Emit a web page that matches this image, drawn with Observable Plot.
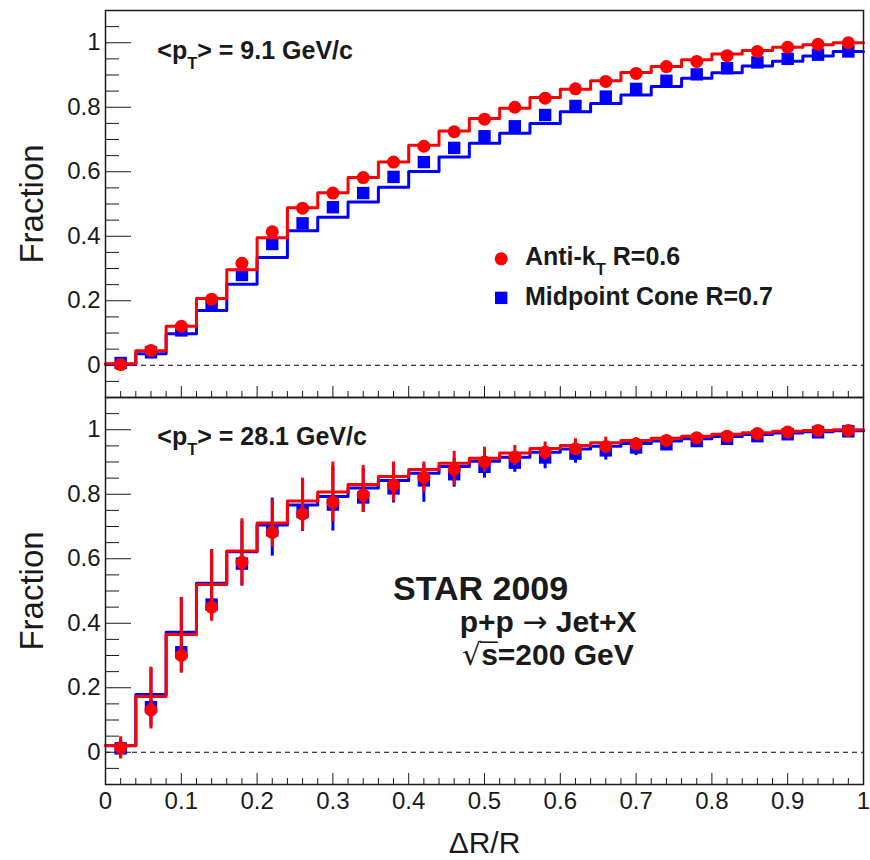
<!DOCTYPE html>
<html>
<head>
<meta charset="utf-8">
<script src="https://cdn.jsdelivr.net/npm/d3@7"></script>
<script src="https://cdn.jsdelivr.net/npm/@observablehq/plot@0.6"></script>
<style>
  html, body { margin: 0; padding: 0; background: #fff; }
  #chart { position: relative; width: 870px; height: 860px; overflow: hidden; background: #fff; }
  #chart svg { position: absolute; left: 0; }
</style>
</head>
<body>
<div id="chart"></div>
<script>
// ΔR/R bins (width 0.04), centres
const binCenters = [0.02, 0.06, 0.10, 0.14, 0.18, 0.22, 0.26, 0.30, 0.34, 0.38, 0.42, 0.46, 0.50,
                    0.54, 0.58, 0.62, 0.66, 0.70, 0.74, 0.78, 0.82, 0.86, 0.90, 0.94, 0.98];
const binHalfWidth = 0.02;

// <pT> = 9.1 GeV/c
const antiKtHist9 = [0.005, 0.045, 0.121, 0.207, 0.296, 0.395, 0.488, 0.535, 0.582, 0.630, 0.682, 0.726, 0.765,
                     0.797, 0.830, 0.856, 0.882, 0.908, 0.926, 0.947, 0.965, 0.976, 0.986, 0.994, 1.000];
const antiKtPts9  = [0.002, 0.046, 0.121, 0.205, 0.316, 0.414, 0.487, 0.534, 0.582, 0.630, 0.679, 0.724, 0.763,
                     0.800, 0.828, 0.857, 0.880, 0.905, 0.926, 0.942, 0.960, 0.973, 0.986, 0.995, 1.000];
const coneHist9   = [0.003, 0.036, 0.098, 0.170, 0.251, 0.334, 0.417, 0.459, 0.506, 0.552, 0.601, 0.646, 0.688,
                     0.719, 0.750, 0.786, 0.812, 0.838, 0.864, 0.890, 0.907, 0.928, 0.943, 0.959, 0.973];
const conePts9    = [0.007, 0.040, 0.108, 0.189, 0.280, 0.376, 0.440, 0.490, 0.534, 0.584, 0.630, 0.674, 0.710,
                     0.741, 0.776, 0.804, 0.833, 0.857, 0.882, 0.902, 0.921, 0.939, 0.950, 0.963, 0.973];

// <pT> = 28.1 GeV/c
const antiKtHist28 = [0.021, 0.173, 0.365, 0.520, 0.624, 0.711, 0.779, 0.807, 0.830, 0.855, 0.877, 0.896, 0.912,
                      0.928, 0.942, 0.951, 0.960, 0.967, 0.974, 0.980, 0.986, 0.991, 0.995, 0.998, 1.000];
const coneHist28   = [0.020, 0.179, 0.372, 0.524, 0.622, 0.705, 0.767, 0.793, 0.819, 0.843, 0.865, 0.886, 0.902,
                      0.915, 0.930, 0.940, 0.949, 0.957, 0.965, 0.972, 0.979, 0.985, 0.990, 0.994, 0.997];
const antiKtPts28  = [0.014, 0.131, 0.300, 0.450, 0.589, 0.682, 0.739, 0.775, 0.798, 0.829, 0.853, 0.877, 0.900,
                      0.915, 0.931, 0.941, 0.948, 0.956, 0.967, 0.975, 0.980, 0.988, 0.993, 0.998, 0.998];
const antiKtErrUp28   = [0.034, 0.133, 0.179, 0.178, 0.135, 0.101, 0.111, 0.125, 0.091, 0.071, 0.047, 0.056, 0.046,
                         0.036, 0.031, 0.031, 0.029, 0.020, 0.015, 0.012, 0.010, 0.010, 0.008, 0.006, 0.005];
const antiKtErrDown28 = [0.035, 0.059, 0.055, 0.044, 0.072, 0.046, 0.051, 0.060, 0.054, 0.050, 0.046, 0.050, 0.032,
                         0.026, 0.025, 0.020, 0.020, 0.020, 0.015, 0.012, 0.010, 0.010, 0.008, 0.006, 0.005];
const conePts28    = [0.012, 0.140, 0.310, 0.458, 0.585, 0.688, 0.745, 0.768, 0.790, 0.818, 0.843, 0.862, 0.885,
                      0.898, 0.914, 0.926, 0.936, 0.945, 0.955, 0.965, 0.972, 0.980, 0.986, 0.992, 0.995];
const coneErrUp28   = [0.030, 0.120, 0.170, 0.170, 0.130, 0.100, 0.100, 0.120, 0.090, 0.070, 0.050, 0.050, 0.040,
                       0.035, 0.030, 0.030, 0.025, 0.020, 0.015, 0.012, 0.010, 0.010, 0.008, 0.006, 0.005];
const coneErrDown28 = [0.030, 0.060, 0.060, 0.050, 0.070, 0.080, 0.060, 0.082, 0.046, 0.045, 0.068, 0.040, 0.035,
                       0.030, 0.035, 0.030, 0.030, 0.025, 0.020, 0.020, 0.015, 0.012, 0.010, 0.008, 0.006];

// axes
const yMajorTicks = [0, 0.2, 0.4, 0.6, 0.8, 1];
const yTickLabels = ["0", "0.2", "0.4", "0.6", "0.8", "1"];
const xMajorTicks = [0, 0.1, 0.2, 0.3, 0.4, 0.5, 0.6, 0.7, 0.8, 0.9, 1];
const xTickLabels = ["0", "0.1", "0.2", "0.3", "0.4", "0.5", "0.6", "0.7", "0.8", "0.9", "1"];
const yMinorTicks = d3.range(-0.05, 1.06, 0.05).map(v => +v.toFixed(2)).filter(v => !yMajorTicks.includes(v));
const xMinorTicks = d3.range(0.02, 1, 0.02).map(v => +v.toFixed(2)).filter(v => !xMajorTicks.includes(v));

const seriesNames = ["Anti-k", "T", " R=0.6", "Midpoint Cone R=0.7"];
const yTitle = "Fraction";
const xTitle = "ΔR/R";

const FONT = '"Liberation Sans", Arial, Helvetica, sans-serif';
const SYMBOL_FONT = '"DejaVu Sans", sans-serif';
const RED = "#ff0000";
const BLUE = "#0000ff";
const INK = "#1a1a1a";
const W = 870, ML = 105, MR = 7;
const plotW = W - ML - MR;

const measureCtx = document.createElement("canvas").getContext("2d");
function textWidth(str, size, weight, family) {
  measureCtx.font = `${weight} ${size}px ${family}`;
  return measureCtx.measureText(str).width;
}

function stepData(values) {
  const pts = values.map((v, i) => ({x: binCenters[i] - binHalfWidth, y: v}));
  pts.push({x: binCenters[binCenters.length - 1] + binHalfWidth, y: values[values.length - 1]});
  return pts;
}
function points(values, up, down) {
  return values.map((v, i) => ({x: binCenters[i], y: v,
    lo: down ? v - down[i] : v, hi: up ? v + up[i] : v}));
}

// Left-aligned text with sub-scripts and radical bars, positioned in data coordinates
function richText(items) {
  return (index, {x, y}) => {
    const g = d3.create("svg:g").attr("text-anchor", "start");
    for (const it of items) {
      const x0 = x(it.x), y0 = y(it.y);
      const t = g.append("text")
        .attr("x", x0).attr("y", y0)
        .attr("text-anchor", "start")
        .attr("font-family", FONT).attr("font-size", it.size)
        .attr("font-weight", "bold").attr("fill", INK);
      let shift = 0, advance = 0;
      for (const p of it.parts) {
        const s = t.append("tspan").text(p.text);
        const target = p.sub ? it.size * 0.38 : 0;
        if (target !== shift) { s.attr("dy", target - shift); shift = target; }
        const size = p.sub ? it.size * 0.66 : it.size;
        const weight = p.weight || "bold";
        const family = p.family || FONT;
        if (p.sub) s.attr("font-size", size);
        if (p.weight) s.attr("font-weight", p.weight);
        if (p.family) s.attr("font-family", p.family);
        const w = textWidth(p.text, size, weight, family);
        if (p.overline) {
          g.append("line")
            .attr("x1", x0 + advance - 1).attr("x2", x0 + advance + w)
            .attr("y1", y0 - it.size * 0.76).attr("y2", y0 - it.size * 0.76)
            .attr("stroke", INK).attr("stroke-width", 1.6);
        }
        advance += w;
      }
    }
    return g.node();
  };
}

function frameMarks(plotH) {
  return [
    Plot.ruleY([0], {stroke: "#000", strokeWidth: 1, strokeDasharray: "5,4"}),
    Plot.ruleY(yMinorTicks, {stroke: INK, strokeWidth: 1, insetRight: plotW - 14}),
    Plot.ruleY(yMajorTicks, {stroke: INK, strokeWidth: 1, insetRight: plotW - 26}),
    Plot.ruleX(xMinorTicks, {stroke: INK, strokeWidth: 1, insetTop: plotH - 6}),
    Plot.ruleX(xMajorTicks, {stroke: INK, strokeWidth: 1, insetTop: plotH - 11}),
    Plot.text([yTitle], {frameAnchor: "left", rotate: -90, dx: -63, lineAnchor: "bottom",
      textAnchor: "middle", fontSize: 33, fill: INK}),
  ];
}

function panel({top, height, marginTop, marginBottom, showX, marks}) {
  const plotH = height - marginTop - marginBottom;
  const svg = Plot.plot({
    width: W, height, marginLeft: ML, marginRight: MR, marginTop, marginBottom,
    style: {fontFamily: FONT, fontSize: "24px", color: INK, background: "transparent", overflow: "visible"},
    x: showX
      ? {domain: [0, 1], ticks: xMajorTicks, tickSize: 0, tickPadding: 7,
         tickFormat: d => xTickLabels[xMajorTicks.indexOf(d)], label: null}
      : {domain: [0, 1], axis: null},
    y: {domain: [-0.1, 1.1], ticks: yMajorTicks, tickSize: 0, tickPadding: 5,
        tickFormat: d => yTickLabels[yMajorTicks.indexOf(d)], label: null},
    marks: [...frameMarks(plotH), ...marks, Plot.frame({stroke: INK, strokeWidth: 1.5})]
  });
  svg.style.top = top + "px";
  return svg;
}

const chart = document.getElementById("chart");

// upper panel: <pT> = 9.1 GeV/c
chart.append(panel({
  top: 0, height: 400, marginTop: 10, marginBottom: 3, showX: false,
  marks: [
    Plot.line(stepData(coneHist9), {x: "x", y: "y", curve: "step-after", stroke: BLUE, strokeWidth: 3}),
    Plot.dot(points(conePts9), {x: "x", y: "y", symbol: "square", r: 7, fill: BLUE}),
    Plot.line(stepData(antiKtHist9), {x: "x", y: "y", curve: "step-after", stroke: RED, strokeWidth: 3}),
    Plot.dot(points(antiKtPts9), {x: "x", y: "y", symbol: "circle", r: 6.5, fill: RED}),
    // legend
    Plot.dot([{x: 0.522, y: 0.330}], {x: "x", y: "y", symbol: "circle", r: 6.5, fill: RED}),
    Plot.dot([{x: 0.522, y: 0.209}], {x: "x", y: "y", symbol: "square", r: 7, fill: BLUE}),
    richText([
      {x: 0.069, y: 0.947, size: 25, parts: [{text: "<p"}, {text: "T", sub: true}, {text: "> = 9.1 GeV/c"}]},
      {x: 0.554, y: 0.309, size: 25, parts: [{text: seriesNames[0]}, {text: seriesNames[1], sub: true}, {text: seriesNames[2]}]},
      {x: 0.554, y: 0.185, size: 25, parts: [{text: seriesNames[3]}]}
    ])
  ]
}));

// lower panel: <pT> = 28.1 GeV/c
chart.append(panel({
  top: 394, height: 466, marginTop: 3, marginBottom: 76, showX: true,
  marks: [
    Plot.line(stepData(coneHist28), {x: "x", y: "y", curve: "step-after", stroke: BLUE, strokeWidth: 3}),
    Plot.ruleX(points(conePts28, coneErrUp28, coneErrDown28), {x: "x", y1: "lo", y2: "hi", stroke: BLUE, strokeWidth: 3}),
    Plot.dot(points(conePts28), {x: "x", y: "y", symbol: "square", r: 7, fill: BLUE}),
    Plot.line(stepData(antiKtHist28), {x: "x", y: "y", curve: "step-after", stroke: RED, strokeWidth: 3}),
    Plot.ruleX(points(antiKtPts28, antiKtErrUp28, antiKtErrDown28), {x: "x", y1: "lo", y2: "hi", stroke: RED, strokeWidth: 3}),
    Plot.dot(points(antiKtPts28), {x: "x", y: "y", symbol: "circle", r: 6.5, fill: RED}),
    Plot.text([xTitle], {frameAnchor: "bottom", dy: 68, lineAnchor: "bottom", fontSize: 30, fill: INK}),
    richText([
      {x: 0.069, y: 0.951, size: 25, parts: [{text: "<p"}, {text: "T", sub: true}, {text: "> = 28.1 GeV/c"}]},
      {x: 0.380, y: 0.4705, size: 34, parts: [{text: "STAR 2009"}]},
      {x: 0.468, y: 0.372, size: 30, parts: [{text: "p+p "}, {text: "→", weight: "normal", family: SYMBOL_FONT}, {text: " Jet+X"}]},
      {x: 0.471, y: 0.269, size: 30, parts: [{text: "√", weight: "normal", family: SYMBOL_FONT}, {text: "s", overline: true}, {text: "=200 GeV"}]}
    ])
  ]
}));
</script>
</body>
</html>
